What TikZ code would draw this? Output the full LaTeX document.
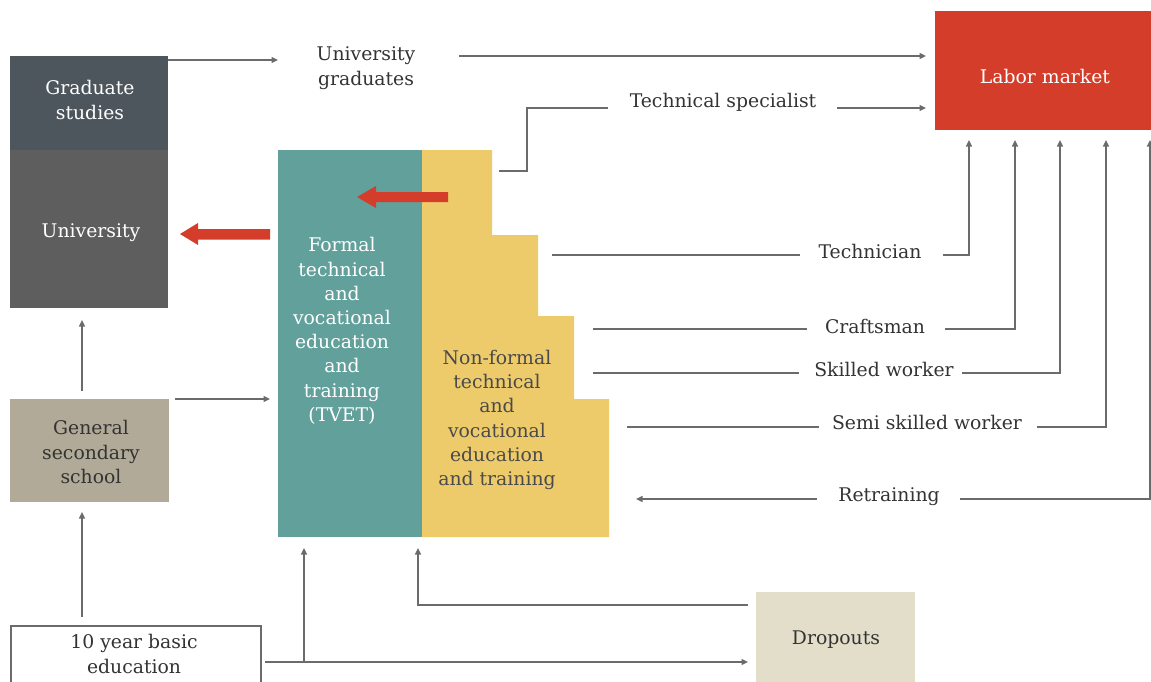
\documentclass[tikz,border=0pt]{standalone}
\usepackage{fontspec}
\setmainfont{DejaVu Serif}
\usetikzlibrary{arrows.meta}
\definecolor{cgrad}{HTML}{4E565D}
\definecolor{cuni}{HTML}{5E5E5E}
\definecolor{cgss}{HTML}{B2AA98}
\definecolor{cteal}{HTML}{62A09C}
\definecolor{cyel}{HTML}{EDCA6A}
\definecolor{cred}{HTML}{D43D2A}
\definecolor{cdrop}{HTML}{E2DECA}
\definecolor{lgrey}{HTML}{6B6B6B}
\definecolor{tdark}{HTML}{333333}
\definecolor{tnf}{HTML}{4A4A4A}
\newcommand\lblfont{\fontsize{18.8}{24.2}\selectfont}
\tikzset{
  conn/.style={draw=lgrey, line width=1.4pt},
  arr/.style={conn, -{Triangle[length=6.5pt,width=6pt]}},
  box/.style={anchor=north west, inner sep=0pt, align=center, font=\lblfont},
  lab/.style={text=tdark, font=\lblfont, inner sep=0pt, align=center, anchor=base},
  intext/.style={font=\lblfont, inner sep=0pt, align=center},
}
\begin{document}
\begin{tikzpicture}[x=1pt,y=-1pt]
\useasboundingbox (0,0) rectangle (1151,681);
% boxes
\node[box, fill=cgrad, text=white, minimum width=158pt, minimum height=94pt] (grad) at (10,56) {};
\node[intext, text=white] (gradt) at (90,100) {Graduate\\studies};
\node[box, fill=cuni, minimum width=158pt, minimum height=158pt] (uni) at (10,150) {};
\node[intext, text=white] (unit) at (91,233) {University};
\node[box, fill=cgss, minimum width=159pt, minimum height=103pt] (gss) at (10,399) {};
\node[intext, text=tdark] (gsst) at (91,452) {General\\secondary\\school};
\node[box, fill=white, draw=lgrey, line width=2pt, minimum width=250pt, minimum height=58pt] (basic) at (10,625) {};
\node[intext, text=tdark] (basict) at (134,654) {10 year basic\\education};
\node[box, fill=cred, minimum width=216pt, minimum height=119pt] (labor) at (935,11) {};
\node[intext, text=white] (labort) at (1045,76) {Labor market};
\node[box, fill=cdrop, minimum width=159pt, minimum height=96pt] (drop) at (756,592) {};
\node[intext, text=tdark] (dropt) at (836,640) {Dropouts};
\node[box, fill=cteal, minimum width=144pt, minimum height=387pt] (tvet) at (278,150) {};
\fill[cyel] (422,150) -| (492,235) -| (538,316) -| (574,399) -| (609,537) -- (422,537) -- cycle;
\node[intext, text=white] (tvett) at (342,331) {Formal\\technical\\and\\vocational\\education\\and\\training\\(TVET)};
\node[intext, text=tnf] (nf) at (497,420) {Non-formal\\technical\\and\\vocational\\education\\and training};
% red arrows
\fill[cred] (270,229) -- (198,229) -- (198,223) -- (180,234) -- (198,245) -- (198,239.5) -- (270,239.5) -- cycle;
\fill[cred] (448,192) -- (376,192) -- (376,186) -- (357,197) -- (376,208) -- (376,202) -- (448,202) -- cycle;
% labels
\node[lab] (ug) at (366,85) {University\\graduates};
\node[lab] (ts) at (723,107) {Technical specialist};
\node[lab] (tc) at (870,258) {Technician};
\node[lab] (cr) at (875,333) {Craftsman};
\node[lab] (sw) at (884,376) {Skilled worker};
\node[lab] (ssw) at (927,429) {Semi skilled worker};
\node[lab] (rt) at (889,501) {Retraining};
% coordinates
\coordinate (ugL) at (278,60);
\coordinate (ugR) at (459,56);
\coordinate (lmA) at (926,56);
\coordinate (ts0) at (499,171);
\coordinate (ts1) at (527,108);
\coordinate (ts2) at (608,108);
\coordinate (ts3) at (837,108);
\coordinate (lmB) at (926,108);
\coordinate (tc0) at (552,255);
\coordinate (tc1) at (800,255);
\coordinate (tc2) at (943,255);
\coordinate (cr0) at (593,329);
\coordinate (cr1) at (807,329);
\coordinate (cr2) at (945,329);
\coordinate (sw0) at (593,373);
\coordinate (sw1) at (799,373);
\coordinate (sw2) at (962,373);
\coordinate (ss0) at (627,427);
\coordinate (ss1) at (819,427);
\coordinate (ss2) at (1037,427);
\coordinate (rt0) at (636,499);
\coordinate (rt1) at (817,499);
\coordinate (rt2) at (960,499);
\coordinate (v1) at (969,140);
\coordinate (v2) at (1015,140);
\coordinate (v3) at (1060,140);
\coordinate (v4) at (1106,140);
\coordinate (v5) at (1150,140);
% connectors
\draw[arr] ([yshift=-4pt]grad.north east) -- (ugL);
\draw[arr] (ugR) -- (lmA);
\draw[conn] (ts0) -| (ts1) -- (ts2);
\draw[arr] (ts3) -- (lmB);
\draw[conn] (tc0) -- (tc1);
\draw[arr] (tc2) -| (v1);
\draw[conn] (cr0) -- (cr1);
\draw[arr] (cr2) -| (v2);
\draw[conn] (sw0) -- (sw1);
\draw[arr] (sw2) -| (v3);
\draw[conn] (ss0) -- (ss1);
\draw[arr] (ss2) -| (v4);
\draw[arr] (rt1) -- (rt0);
\draw[arr] (rt2) -| (v5);
\coordinate (uIn) at (82,320);
\coordinate (gOut) at (82,391);
\draw[arr] (gOut) -- (uIn);
\coordinate (gIn) at (82,512);
\coordinate (bOut) at (82,617);
\draw[arr] (bOut) -- (gIn);
\coordinate (gR) at (175,399);
\coordinate (tIn) at (270,399);
\draw[arr] (gR) -- (tIn);
\coordinate (bR) at (265,662);
\coordinate (dIn) at (748,662);
\coordinate (jn) at (304,662);
\coordinate (tvIn) at (304,548);
\draw[arr] (bR) -- (dIn);
\draw[arr] (jn) -- (tvIn);
\coordinate (dL) at (748,605);
\coordinate (nfIn) at (418,548);
\draw[arr] (dL) -| (nfIn);
\end{tikzpicture}
\end{document}
